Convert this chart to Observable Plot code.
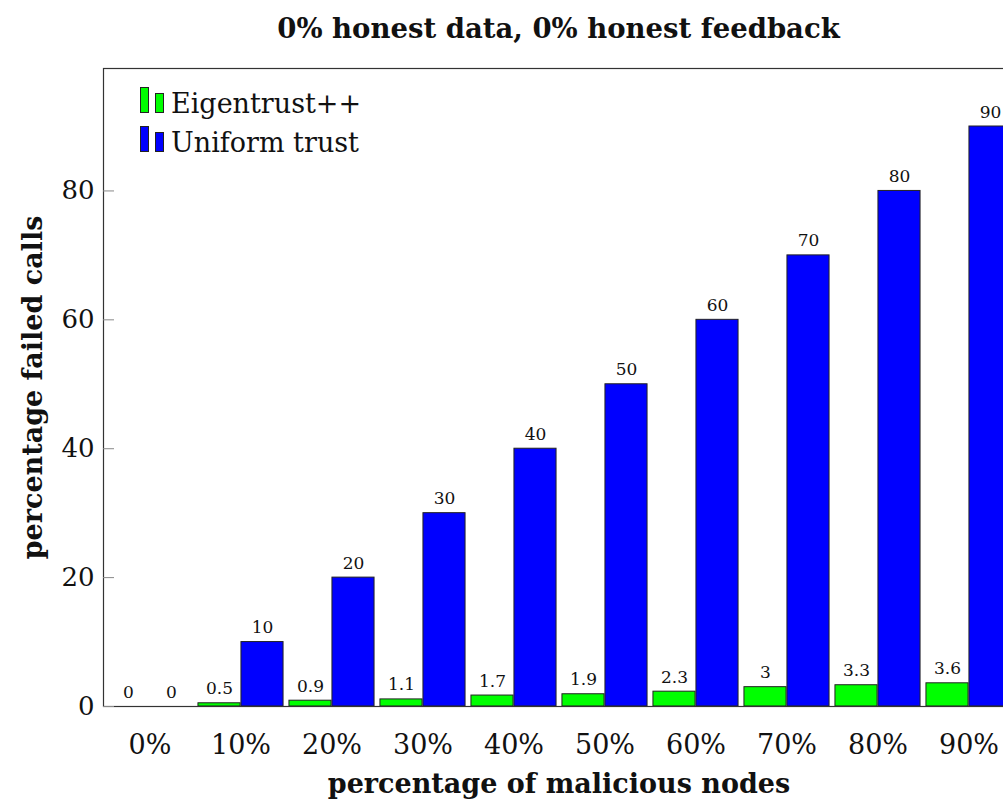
<!DOCTYPE html>
<html>
<head>
<meta charset="utf-8">
<script src="https://cdn.jsdelivr.net/npm/d3@7"></script>
<script src="https://cdn.jsdelivr.net/npm/@observablehq/plot@0.6"></script>
<style>
  html, body { margin: 0; padding: 0; background: white; overflow: hidden; }
  #wrap { position: relative; width: 1003px; height: 802px; overflow: hidden; background: white; }
  #title { position: absolute; left: 103px; width: 911px; top: 0; height: 56px; line-height: 56px;
           text-align: center; font-family: "DejaVu Serif", serif; font-weight: bold; font-size: 27.5px; color: #111; }
  #chart { position: absolute; left: 0; top: 56px; }
  .leg { position: absolute; font-family: "DejaVu Serif", serif; font-size: 27px; line-height: 27px; color: #111; white-space: nowrap; }
  .sw { position: absolute; box-sizing: border-box; border: 1px solid #222; }
</style>
</head>
<body>
<div id="wrap">
  <div id="title"></div>
  <div id="chart"></div>
  <div id="legend"></div>
</div>
<script>
const titleText = "0% honest data, 0% honest feedback";
const xLabel = "percentage of malicious nodes";
const yLabel = "percentage failed calls";
const categories = ["0%", "10%", "20%", "30%", "40%", "50%", "60%", "70%", "80%", "90%"];
const seriesNames = ["Eigentrust++", "Uniform trust"];
const seriesColors = ["#00ff00", "#0000ff"];
const eigentrust = [0, 0.5, 0.9, 1.1, 1.7, 1.9, 2.3, 3, 3.3, 3.6];
const uniform = [0, 10, 20, 30, 40, 50, 60, 70, 80, 90];
const yTicks = [0, 20, 40, 60, 80];

const data = categories.map((c, i) => ({cat: c, e: eigentrust[i], u: uniform[i]}));

document.getElementById("title").textContent = titleText;

const xRange = [99, 1018];
const step = (xRange[1] - xRange[0]) / categories.length;
const barW = 43;
const half = step / 2;
const side = half - barW;

const chart = Plot.plot({
  width: 1003,
  height: 746,
  marginLeft: 103,
  marginRight: -11,
  marginTop: 12,
  marginBottom: 96,
  x: {domain: categories, range: xRange, padding: 0, label: null},
  y: {domain: [0, 99], label: null},
  style: {fontFamily: "DejaVu Serif", background: "white", color: "#111"},
  marks: [
    Plot.barY(data, {x: "cat", y: "e", fill: seriesColors[0], stroke: "#222", strokeWidth: 1, insetLeft: side, insetRight: half}),
    Plot.barY(data, {x: "cat", y: "u", fill: seriesColors[1], stroke: "#222", strokeWidth: 1, insetLeft: half, insetRight: side}),
    Plot.text(data, {x: "cat", y: "e", text: d => String(d.e), dx: -barW / 2, dy: -9, lineAnchor: "bottom", fontSize: 17, fill: "#111"}),
    Plot.text(data, {x: "cat", y: "u", text: d => String(d.u), dx: barW / 2, dy: -9, lineAnchor: "bottom", fontSize: 17, fill: "#111"}),
    Plot.frame({stroke: "#333", strokeWidth: 1.2}),
    Plot.axisX({tickSize: 0, tickPadding: 28, fontSize: 27, label: null}),
    Plot.axisY({ticks: yTicks, tickSize: 0, tickPadding: 9, fontSize: 26, label: null}),
    Plot.axisY({ticks: yTicks, tickSize: -11, tickFormat: () => "", stroke: "#888", label: null}),
    Plot.text([xLabel], {frameAnchor: "bottom", dy: 86, fontWeight: "bold", fontSize: 27, fill: "#111"}),
    Plot.text([yLabel], {frameAnchor: "left", textAnchor: "middle", rotate: -90, dx: -70, fontWeight: "bold", fontSize: 27, fill: "#111"})
  ]
});
document.getElementById("chart").appendChild(chart);

// legend (inside plot area, top-left)
const legend = document.getElementById("legend");
const rows = [{top: 87}, {top: 126}];
seriesNames.forEach((name, i) => {
  const t = rows[i].top;
  const big = document.createElement("div");
  big.className = "sw";
  Object.assign(big.style, {left: "140px", top: t + "px", width: "9px", height: "26px", background: seriesColors[i]});
  const small = document.createElement("div");
  small.className = "sw";
  Object.assign(small.style, {left: "155px", top: (t + 6) + "px", width: "9px", height: "20px", background: seriesColors[i]});
  const lab = document.createElement("div");
  lab.className = "leg";
  Object.assign(lab.style, {left: "171px", top: (t + 3) + "px"});
  lab.textContent = name;
  legend.append(big, small, lab);
});
</script>
</body>
</html>
